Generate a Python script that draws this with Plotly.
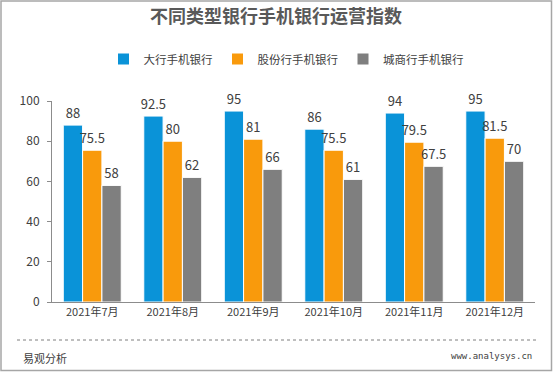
import plotly.graph_objects as go

categories = ["2021年7月", "2021年8月", "2021年9月", "2021年10月", "2021年11月", "2021年12月"]
series_names = ["大行手机银行", "股份行手机银行", "城商行手机银行"]
big_banks = [88, 92.5, 95, 86, 94, 95]
joint_stock = [75.5, 80, 81, 75.5, 79.5, 81.5]
city_banks = [58, 62, 66, 61, 67.5, 70]
y_ticks = [0, 20, 40, 60, 80, 100]
colors = ["#0A93D8", "#F99A0C", "#7F7F7F"]

W, H = 553, 372
L, R, T, B = 52, 18, 101, 70
PW, PH = W - L - R, H - T - B

def px_x(px):
    return (px - L) / PW

def px_y(py):
    return (H - B - py) / PH

FONT = "Noto Sans CJK SC"

fig = go.Figure()
for name, vals, col in zip(series_names, [big_banks, joint_stock, city_banks], colors):
    fig.add_trace(go.Bar(
        name=name, x=categories, y=vals,
        marker=dict(color=col, line=dict(color="#FFFFFF", width=1)),
        text=[("%g" % v) for v in vals],
        textposition="outside",
        constraintext="none",
        outsidetextfont=dict(size=13, color="#404040", family=FONT),
        textangle=0,
        cliponaxis=False,
    ))

fig.update_layout(
    width=W, height=H,
    margin=dict(l=L, r=R, t=T, b=B),
    paper_bgcolor="#FFFFFF", plot_bgcolor="#FFFFFF",
    font=dict(family=FONT, size=12, color="#595959"),
    barmode="group", bargap=0.28, bargroupgap=0,
    uniformtext=dict(minsize=13, mode="show"),
    title=dict(text="<b>不同类型银行手机银行运营指数</b>", xref="container", yref="container",
               x=276 / W, xanchor="center", y=1 - 17 / H, yanchor="middle",
               font=dict(size=18, color="#595959", family=FONT)),
    legend=dict(orientation="h", xref="container", yref="container",
                x=286 / W, xanchor="center", y=1 - 59 / H, yanchor="middle",
                font=dict(size=11.5, color="#404040", family=FONT),
                itemwidth=30, tracegroupgap=0, bgcolor="rgba(0,0,0,0)"),
    showlegend=True,
    xaxis=dict(showline=True, linecolor="#8C8C8C", linewidth=1, ticks="",
               showgrid=False, tickfont=dict(size=11, color="#404040")),
    yaxis=dict(range=[0, 100], tickvals=y_ticks, showline=True, linecolor="#8C8C8C",
               linewidth=1, ticks="outside", ticklen=4, tickcolor="#8C8C8C",
               ticklabelstandoff=5,
               showgrid=False, zeroline=False, tickfont=dict(size=12, color="#404040")),
)

# dotted separator line
fig.add_shape(type="line", xref="paper", yref="paper",
              x0=px_x(17), x1=px_x(536), y0=px_y(340), y1=px_y(340),
              line=dict(color="#7F7F7F", width=1, dash="dot"))
# outer border
fig.add_shape(type="rect", xref="paper", yref="paper",
              x0=px_x(1), x1=px_x(551.5), y0=px_y(370.5), y1=px_y(1),
              line=dict(color="#A6A6A6", width=1.5))

fig.add_annotation(text="易观分析", xref="paper", yref="paper",
                   x=px_x(21), xanchor="left", y=px_y(358), yanchor="middle",
                   showarrow=False, font=dict(size=11, color="#404040", family=FONT))
fig.add_annotation(text="www.analysys.cn", xref="paper", yref="paper",
                   x=px_x(534), xanchor="right", y=px_y(356), yanchor="middle",
                   showarrow=False, font=dict(size=9, color="#404040", family="DejaVu Sans Mono"))

fig.write_html("out.html", config={"displayModeBar": False},
               post_script="document.body.style.margin='0';document.body.style.overflow='hidden';")
